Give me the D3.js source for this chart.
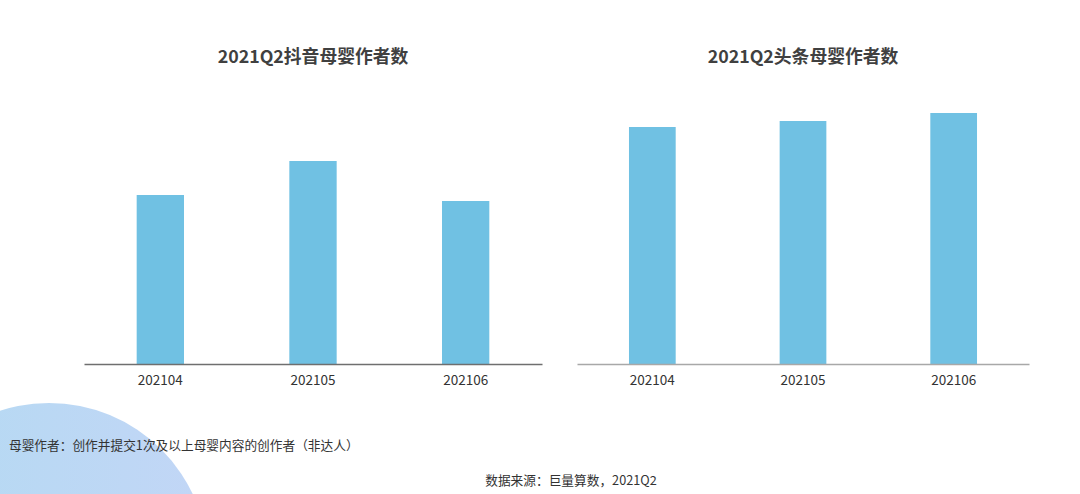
<!DOCTYPE html>
<html><head><meta charset="utf-8">
<script src="https://cdn.jsdelivr.net/npm/d3@7"></script>
<style>html,body{margin:0;padding:0;background:#fff;}svg{display:block;}</style>
</head><body>
<svg id="c" width="1080" height="494"></svg>
<script>
const months = ["202104", "202105", "202106"];
const douyinValues = [169, 203, 163];
const toutiaoValues = [237, 243, 251];
const titles = ["2021Q2抖音母婴作者数", "2021Q2头条母婴作者数"];
const footnote = "母婴作者：创作并提交1次及以上母婴内容的创作者（非达人）";
const source = "数据来源：巨量算数，2021Q2";

const svg = d3.select("#c");
const font = "'Noto Sans CJK SC', 'Noto Sans', sans-serif";

const defs = svg.append("defs");
const g = defs.append("linearGradient").attr("id","bg").attr("x1","0").attr("x2","1").attr("y1","0").attr("y2","0");
g.append("stop").attr("offset","0").attr("stop-color","#b3daf2");
g.append("stop").attr("offset","1").attr("stop-color","#c2d6f6");
svg.append("circle").attr("cx",49).attr("cy",562).attr("r",159).attr("fill","url(#bg)");

const y = d3.scaleLinear().domain([0, 300]).range([364, 64]);

function drawChart(x0, x1, values, title, axisColor) {
  const x = d3.scaleBand().domain(months).range([x0, x1]).paddingInner(0.69).paddingOuter(0.345);
  const gc = svg.append("g");
  gc.selectAll("rect").data(values).join("rect")
    .attr("x", (d,i) => x(months[i]))
    .attr("width", x.bandwidth())
    .attr("y", d => y(d))
    .attr("height", d => y(0) - y(d))
    .attr("fill", "#70c1e3");
  const ax = gc.append("g").attr("transform", `translate(0,${y(0)})`)
    .call(d3.axisBottom(x).tickSize(0).tickPadding(11));
  ax.select(".domain").attr("stroke", axisColor).attr("stroke-width", 1.3);
  ax.selectAll("text").attr("font-family", font).attr("font-size", 13.5).attr("fill", "#333");
  gc.append("text").attr("x", (x0+x1)/2).attr("y", 63).attr("text-anchor","middle")
    .attr("font-family", font).attr("font-size", 17.8).attr("font-weight","bold").attr("fill","#404040")
    .text(title);
}

drawChart(84, 542, douyinValues, titles[0], "#6f6f6f");
drawChart(577, 1029, toutiaoValues, titles[1], "#a8a8a8");

svg.append("text").attr("x", 9).attr("y", 450).attr("font-family", font).attr("font-size", 12.7).attr("fill","#333").text(footnote);
svg.append("text").attr("x", 571).attr("y", 485).attr("text-anchor","middle").attr("font-family", font).attr("font-size", 12.7).attr("fill","#333").text(source);
</script>
</body></html>
